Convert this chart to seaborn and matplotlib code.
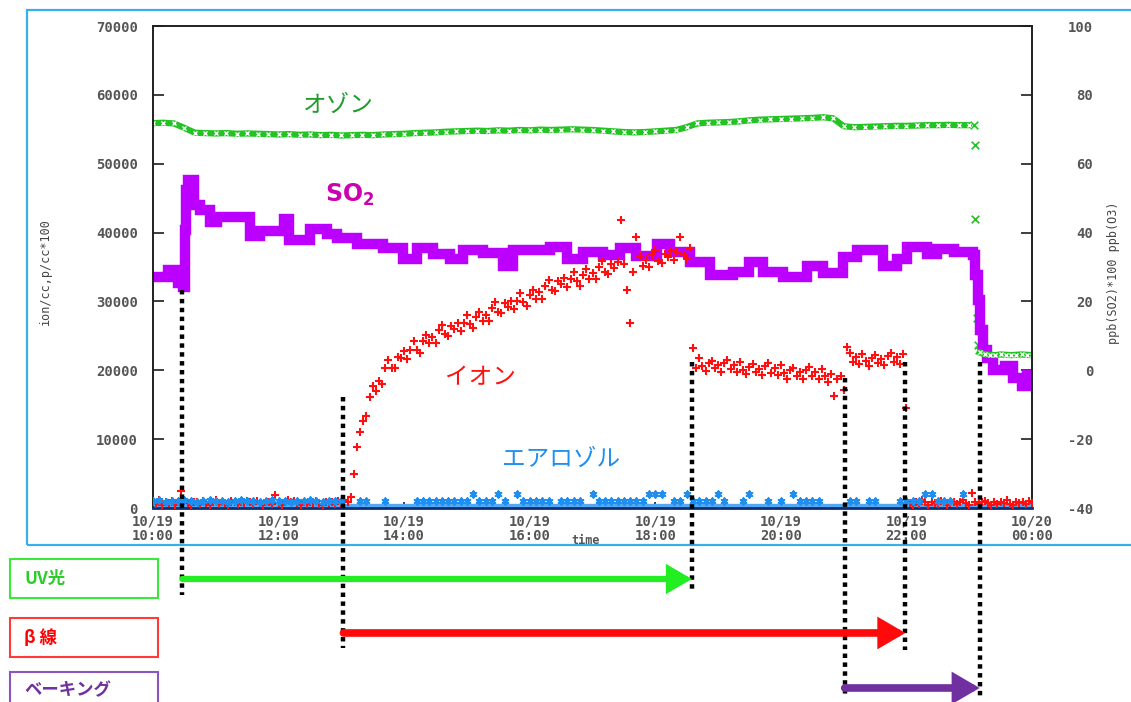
import numpy as np
import matplotlib
matplotlib.use("Agg")
import matplotlib.pyplot as plt
import seaborn as sns
from matplotlib.patches import Rectangle

# ---------------------------------------------------------------- data
def hours(stamp):
    hh, mm = stamp.split(":")
    return int(hh) + int(mm) / 60.0


def sample_times(start, step_min, n):
    return hours(start) + np.arange(n) * step_min / 60.0


# SO2 (ppb*100, right axis): level changes of the monitor record
so2_times = ["10:00", "10:14", "10:24", "10:29", "10:31", "10:32", "10:33", "10:39",
             "10:45", "10:54", "11:01", "11:33", "11:42", "12:05", "12:10", "12:30",
             "12:46", "12:56", "13:15", "13:40", "13:59", "14:12", "14:28", "14:44",
             "14:56", "15:15", "15:34", "15:44", "16:19", "16:36", "16:51", "17:10",
             "17:26", "17:42", "18:02", "18:14", "18:33", "18:52", "19:14", "19:30",
             "19:43", "20:02", "20:25", "20:40", "20:59", "21:13", "21:38", "21:51",
             "22:01", "22:20", "22:29", "22:45", "23:04", "23:06", "23:08", "23:10",
             "23:13", "23:17", "23:23", "23:34", "23:42", "23:50", "23:55", "24:00"]
so2_ppb = [27.1, 29.1, 25.3, 24.2, 40.7, 52.3, 55.2, 48.0,
           46.5, 43.1, 44.5, 39.0, 40.4, 43.9, 37.8, 41.0,
           39.6, 38.4, 36.7, 35.5, 32.3, 35.5, 33.8, 32.3,
           34.9, 34.1, 30.3, 34.9, 35.8, 32.3, 34.3, 33.5,
           35.5, 33.2, 36.7, 34.3, 31.4, 27.7, 28.5, 31.4,
           28.5, 27.1, 30.3, 28.2, 32.9, 34.9, 30.3, 32.3,
           35.8, 33.8, 35.2, 34.3, 33.5, 27.7, 20.4, 11.7,
           5.9, 3.6, 0.1, 1.2, -2.2, -4.6, -1.4, -1.4]

# Ozone (ppb, right axis), 10-minute record from 10:00
ozone_start = "10:00"
ozone_step = 10
ozone_ppb = [71.8, 71.9, 71.7, 70.4, 69.0, 68.9, 68.8, 68.9, 68.7, 68.8,
             68.7, 68.6, 68.5, 68.6, 68.4, 68.5, 68.3, 68.4, 68.2, 68.3,
             68.4, 68.3, 68.5, 68.6, 68.7, 68.9, 69.0, 69.1, 69.3, 69.4,
             69.5, 69.6, 69.5, 69.7, 69.6, 69.8, 69.7, 69.9, 69.8, 69.9,
             70.0, 69.9, 69.8, 69.6, 69.4, 69.2, 69.1, 69.2, 69.4, 69.6,
             69.8, 70.6, 71.7, 71.9, 72.0, 72.1, 72.3, 72.6, 72.8, 72.9,
             73.0, 73.1, 73.2, 73.3, 73.5, 73.2, 70.9, 70.6, 70.7, 70.8,
             70.9, 71.0, 71.0, 71.1, 71.2, 71.2, 71.3, 71.2, 71.2]
# Ozone during the bake-out drop and afterwards
ozone_drop_times = ["23:05", "23:06", "23:06", "23:07", "23:08", "23:09"]
ozone_drop_ppb = [71.1, 65.4, 43.9, 15.2, 7.3, 5.9]
ozone_tail_times = ["23:10", "23:15", "23:20", "23:25", "23:30", "23:35",
                    "23:40", "23:45", "23:50", "23:55", "24:00"]
ozone_tail_ppb = [5.2, 4.6, 4.5, 4.4, 4.6, 4.5, 4.4, 4.5, 4.6, 4.5, 4.4]

# Ion count (ion/cc, left axis), 3-minute record in four stretches
ion_step = 3
ion_early_start = "10:00"
ion_early = [900, 600, 1100, 500, 800, 700, 1000, 400, 900, 2400,
             1200, 700, 500, 900, 800, 600, 1000, 700, 500, 800,
             1100, 600, 900, 700, 500, 1000, 800, 600, 900, 700,
             1000, 800, 600, 1000, 700, 500, 900, 800, 600, 1900,
             700, 500, 900, 1100, 800, 1000, 700, 500, 900, 600,
             800, 700, 1000, 600, 500, 900, 700, 800, 600, 1000,
             700, 1200, 900]
ion_rise_start = "13:09"
ion_rise = [1600, 4900, 8800, 11000, 12600, 13300, 16100, 17700, 17000, 18400,
            18000, 20300, 21500, 20400, 20400, 22000, 21800, 22800, 21700, 23000,
            24200, 23000, 22500, 24300, 25100, 23900, 24800, 23900, 25800, 26600,
            25200, 25000, 26400, 26000, 26900, 25700, 26900, 28000, 26700, 26100,
            27700, 28500, 27200, 28100, 27200, 29100, 29900, 28500, 28300, 29700,
            29200, 30100, 28900, 30100, 31200, 29900, 29300, 30900, 31700, 30400,
            31300, 30400, 32300, 33100, 31700, 31500, 32900, 32500, 33400, 32100,
            33300, 34300, 33000, 32300, 33900, 34700, 33300, 34100, 33200, 35000,
            35800, 34300, 34000, 35400, 34900, 35700, 41800, 35500, 31700, 26900,
            34300, 39300, 36600, 35200, 36000, 35000, 36700, 37400, 35900, 35600,
            36900, 36500, 37300, 36000, 37200, 39400, 36800, 36100, 37800]
ion_plateau_start = "18:36"
ion_plateau = [23300, 20300, 21800, 20600, 19900, 21000, 21400, 20300, 20700, 19800,
               21100, 21500, 20200, 20800, 19800, 21200, 20100, 19400, 20500, 20900,
               19700, 20200, 19300, 20600, 21000, 19600, 20300, 19300, 20700, 19600,
               18800, 20000, 20400, 19200, 19700, 18700, 20100, 20500, 19100, 19800,
               18700, 20200, 19100, 18300, 19500, 16200, 18700, 19200, 17200, 23400,
               22500, 21200, 21900, 20900, 22400, 21300, 20600, 21800, 22200, 21100,
               21600, 20700, 22100, 22500, 21200, 21900, 20900, 22400, 14500]
ion_late_start = "22:03"
ion_late = [700, 500, 900, 600, 1100, 800, 500, 900, 700, 600,
            1000, 800, 500, 700, 900, 600, 800, 1200, 700, 500,
            2200, 900, 600, 800, 1000, 700, 500, 900, 600, 800,
            700, 1100, 600, 500, 900, 700, 800, 600, 1000, 700]

# Aerosol (p/cc*100, left axis), 6-minute record; nan = no reading
nan = np.nan
aerosol_start = "10:00"
aerosol_step = 6
aerosol = [1000, 1100, 900, 1000, 1000, 1100, 1000, 900, 1000, 1100,
           1000, 1000, 900, 1000, 1100, 1000, 1000, 900, 1000, 1100,
           1000, 1000, 900, 1000, 1000, 1100, 1000, 900, 1000, 1000,
           1000, nan, nan, 1000, 1000, nan, nan, 1000, nan, nan,
           nan, nan, 1000, 1000, 1000, 1000, 1000, 1000, 1000, 1000,
           1000, 2100, 1000, 1000, 1000, 2100, 1000, nan, 2100, 1000,
           1000, 1000, 1000, 1000, nan, 1000, 1000, 1000, 1000, nan,
           2100, 1000, 1000, 1000, 1000, 1000, 1000, 1000, 1000, 2100,
           2100, 2100, nan, 1000, 1000, 2100, 1000, 1000, 1000, 1000,
           2100, 1000, nan, nan, 1000, 2100, nan, nan, 1000, nan,
           1000, nan, 2100, 1000, 1000, 1000, 1000, nan, nan, nan,
           nan, 1000, 1000, nan, 1000, 1000, nan, nan, nan, 1000,
           1000, 1000, 1000, 2100, 2100, 1000, 1000, 1000, nan, 2100,
           nan, nan, nan, nan, nan, nan, nan, nan, nan, nan, nan]

# Irradiation / bake-out periods
uv_on, uv_off = "10:28", "18:35"
beta_on, beta_off = "13:02", "21:59"
bake_on, bake_off = "21:01", "23:10"

# Axis scales and labels
left_ticks = [0, 10000, 20000, 30000, 40000, 50000, 60000, 70000]
right_ticks = [-40, -20, 0, 20, 40, 60, 80, 100]
x_ticks = ["10:00", "12:00", "14:00", "16:00", "18:00", "20:00", "22:00", "24:00"]
x_tick_labels = ["10/19\n10:00", "10/19\n12:00", "10/19\n14:00", "10/19\n16:00",
                 "10/19\n18:00", "10/19\n20:00", "10/19\n22:00", "10/20\n00:00"]

# ---------------------------------------------------------------- style
sns.set_theme(style="white")
plt.rcParams["font.family"] = ["Noto Sans CJK JP", "DejaVu Sans"]
plt.rcParams["mathtext.default"] = "regular"

W, H = 1131, 702
fx = lambda px: px / W
fy = lambda py: 1 - py / H

C_OZONE, C_OZONE_TXT = "#22c322", "#1f9c2a"
C_SO2, C_SO2_TXT = "#bb00ff", "#cc00b0"
C_ION = "#ff1010"
C_AER = "#1e8ff0"
MONO = dict(fontfamily="DejaVu Sans Mono", fontweight="bold", color="#555555", fontsize=10)

fig = plt.figure(figsize=(W / 100, H / 100), dpi=100)
ax = fig.add_axes([fx(153), fy(508), fx(1032) - fx(153), fy(26) - fy(508)])
ax2 = ax.twinx()
ax.set_zorder(ax2.get_zorder() + 1)
ax.patch.set_visible(False)

# right axis: SO2 and ozone
sns.lineplot(x=[hours(t) for t in so2_times], y=so2_ppb, ax=ax2, color=C_SO2,
             lw=7.5, drawstyle="steps-post", solid_joinstyle="miter", estimator=None)
oz_t = sample_times(ozone_start, ozone_step, len(ozone_ppb))
sns.lineplot(x=oz_t, y=ozone_ppb, ax=ax2, color=C_OZONE, lw=4.5,
             marker="x", markersize=3.5, mew=1.0, estimator=None)
sns.scatterplot(x=[hours(t) for t in ozone_drop_times], y=ozone_drop_ppb, ax=ax2,
                color=C_OZONE, marker="x", s=30, linewidth=1.2)
sns.lineplot(x=[hours(t) for t in ozone_tail_times], y=ozone_tail_ppb, ax=ax2,
             color=C_OZONE, lw=4.5, marker="x", markersize=3.5, mew=1.0, estimator=None)

# left axis: ions and aerosol
ax.axhline(0, color="#52a8f2", lw=6, zorder=1)
for start, vals in [(ion_early_start, ion_early), (ion_rise_start, ion_rise),
                    (ion_plateau_start, ion_plateau), (ion_late_start, ion_late)]:
    sns.scatterplot(x=sample_times(start, ion_step, len(vals)), y=vals, ax=ax,
                    color=C_ION, marker="+", s=40, linewidth=1.5, zorder=3)
aer_t = sample_times(aerosol_start, aerosol_step, len(aerosol))
sns.scatterplot(x=aer_t, y=aerosol, ax=ax, color=C_AER, marker=(6, 2, 0),
                s=20, linewidth=1.5, zorder=3)

ax.set_xlim(10, 24)
ax.set_ylim(0, 70000)
ax2.set_ylim(-40, 100)
for a in (ax, ax2):
    a.set_xlabel("")
    a.set_ylabel("")
    for s in a.spines.values():
        s.set_color("#202020")
        s.set_linewidth(1.2)
ax.spines["bottom"].set_color("#0c2f78")
ax.spines["bottom"].set_linewidth(2)

ax.set_xticks([hours(t) for t in x_ticks], labels=x_tick_labels, linespacing=1.05, **MONO)
ax.set_yticks(left_ticks, labels=[str(v) for v in left_ticks], **MONO)
ax2.set_yticks(right_ticks, labels=[str(v) for v in right_ticks], **MONO)
for lbl in ax2.get_yticklabels():
    lbl.set_horizontalalignment("right")
ax.tick_params(axis="x", direction="in", length=4, pad=5, top=False, bottom=True)
ax.tick_params(axis="y", direction="in", length=8, pad=11, left=True, right=False)
ax2.tick_params(axis="y", direction="in", length=8, pad=44, right=True, left=False)

# series labels
ax.text(hours("12:57"), 58500, "オゾン", color=C_OZONE_TXT, fontsize=17,
        ha="center", va="center")
ax.text(hours("13:08"), 45400, r"SO$_2$", color=C_SO2_TXT, fontsize=17,
        fontweight="bold", ha="center", va="center", family="DejaVu Sans")
ax.text(hours("15:13"), 18900, "イオン", color=C_ION, fontsize=17,
        ha="center", va="center")
ax.text(hours("16:30"), 7000, "エアロゾル", color=C_AER, fontsize=17,
        ha="center", va="center")

# period markers: dotted verticals and arrows below the axes
dot = dict(color="black", lw=3.2, ls=(0, (1, 1)), dash_capstyle="butt",
           clip_on=False, zorder=6)
marker_spans = [(uv_on, 31650, -12630), (beta_on, 16120, -20330),
                (uv_off, 21200, -11900), (bake_on, 18900, -27440),
                (beta_off, 21200, -20600), (bake_off, 21200, -27440)]
for t, top, bottom in marker_spans:
    ax.plot([hours(t), hours(t)], [top, bottom], **dot)

arrows = [(uv_on, uv_off, -10310, "#22ee22", 4.5),
          (beta_on, beta_off, -18150, "#ff0a0a", 5.5),
          (bake_on, bake_off, -26140, "#7030a0", 5.5)]
for t0, t1, y, col, w in arrows:
    ax.annotate("", xy=(hours(t1), y), xytext=(hours(t0), y), annotation_clip=False,
                arrowprops=dict(arrowstyle="-|>,head_length=0.6,head_width=0.35",
                                color=col, lw=w, shrinkA=0, shrinkB=0,
                                mutation_scale=20, joinstyle="miter"), zorder=7)

# axis titles
fig.text(fx(45), fy(272), "ion/cc,p/cc*100", rotation=90, ha="center", va="center",
         fontsize=8.5, family="DejaVu Sans Mono", color="#444444")
fig.text(fx(1113), fy(273), "ppb(SO2)*100 ppb(O3)", rotation=90, ha="center",
         va="center", fontsize=8.5, family="DejaVu Sans Mono", color="#444444")
fig.text(fx(586), fy(541), "time", ha="center", va="center", fontsize=8.5,
         family="DejaVu Sans Mono", fontweight="bold", color="#555555")

# outer frame
fig.add_artist(Rectangle((fx(27), fy(545)), 1.0, fy(10) - fy(545),
                         transform=fig.transFigure, fill=False,
                         edgecolor="#3aaee8", lw=1.6, clip_on=False))

# period legend boxes
boxes = [("UV光", 559, 598, "#3de83d", "#2ccc2c"),
         ("β 線", 618, 657, "#ff3a3a", "#ff0000"),
         ("ベーキング", 672, 712, "#8a55bf", "#7030a0")]
for text, y0, y1, edge, tc in boxes:
    fig.add_artist(Rectangle((fx(10), fy(y1)), fx(158) - fx(10), fy(y0) - fy(y1),
                             transform=fig.transFigure, fill=False,
                             edgecolor=edge, lw=1.5, clip_on=False))
    fig.text(fx(24), fy(min(y0 + 20, 690)), text, ha="left", va="center",
             fontsize=12.5, fontweight="bold", color=tc)

fig.savefig("out.png", dpi=100)
